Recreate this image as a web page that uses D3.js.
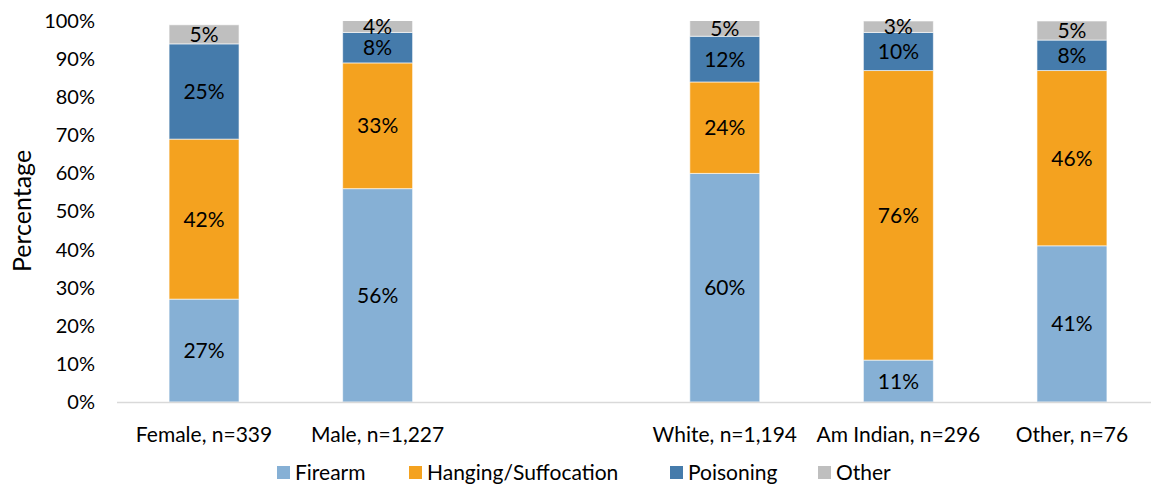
<!DOCTYPE html>
<html>
<head>
<meta charset="utf-8">
<script src="https://cdn.jsdelivr.net/npm/d3@7"></script>
<style>
  html, body { margin: 0; padding: 0; background: #fff; }
  svg { display: block; font-family: Lato, "Open Sans", sans-serif; }
</style>
</head>
<body>
<svg id="chart" width="1151" height="485"></svg>
<script>
// Method of suicide by sex and race (percent of deaths in each group)
const categories = ["Female, n=339", "Male, n=1,227", "", "White, n=1,194", "Am Indian, n=296", "Other, n=76"];
const seriesNames = ["Firearm", "Hanging/Suffocation", "Poisoning", "Other"];
const firearm   = [27, 56, null, 60, 11, 41];
const hanging   = [42, 33, null, 24, 76, 46];
const poisoning = [25,  8, null, 12, 10,  8];
const other     = [ 5,  4, null,  5,  3,  5];
const yTicks = [0, 10, 20, 30, 40, 50, 60, 70, 80, 90, 100];
const colors = ["#86b0d5", "#f4a21f", "#457bab", "#bfbfbf"];

const seriesValues = [firearm, hanging, poisoning, other];
const rows = categories.map((c, i) => {
  const r = { cat: c };
  seriesNames.forEach((s, j) => r[s] = seriesValues[j][i] || 0);
  return r;
});

const svg = d3.select("#chart");
const plotLeft = 117, plotRight = 1159, plotTop = 21, plotBottom = 402;

const x = d3.scaleBand().domain(categories.map((c, i) => i)).range([plotLeft, plotRight]).paddingInner(0.597).paddingOuter(0.3);
const y = d3.scaleLinear().domain([0, 100]).range([plotBottom, plotTop]);

svg.append("defs").append("clipPath").attr("id", "plotClip")
  .append("rect").attr("x", plotLeft).attr("y", plotTop).attr("width", plotRight - plotLeft).attr("height", plotBottom - plotTop);

const stack = d3.stack().keys(seriesNames);
const layers = stack(rows);

const g = svg.append("g").attr("clip-path", "url(#plotClip)");
layers.forEach((layer, j) => {
  g.selectAll(null).data(layer.map((d, i) => ({ d, i })).filter(o => seriesValues[j][o.i] != null))
    .join("rect")
    .attr("x", o => x(o.i))
    .attr("width", x.bandwidth())
    .attr("y", o => y(o.d[1]))
    .attr("height", o => y(o.d[0]) - y(o.d[1]))
    .attr("fill", colors[j])
    .attr("stroke", "#ffffff")
    .attr("stroke-opacity", 0.6)
    .attr("stroke-width", 1);
});

// value labels, centred in the visible part of each segment
layers.forEach((layer, j) => {
  svg.selectAll(null).data(layer.map((d, i) => ({ d, i })).filter(o => seriesValues[j][o.i] != null))
    .join("text")
    .attr("x", o => x(o.i) + x.bandwidth() / 2)
    .attr("y", o => (y(Math.min(o.d[0], 100)) + y(Math.min(o.d[1], 100))) / 2)
    .attr("dy", "0.36em")
    .attr("text-anchor", "middle")
    .attr("font-size", 21)
    .attr("fill", "#000")
    .text(o => seriesValues[j][o.i] + "%");
});

// x axis baseline
svg.append("line").attr("x1", plotLeft).attr("x2", 1151).attr("y1", plotBottom + 0.5).attr("y2", plotBottom + 0.5)
  .attr("stroke", "#d9d9d9").attr("stroke-width", 1.5);

// category labels
svg.selectAll(null).data(categories.map((c, i) => ({ c, i })))
  .join("text")
  .attr("x", o => x(o.i) + x.bandwidth() / 2)
  .attr("y", 434)
  .attr("dy", "0.36em")
  .attr("text-anchor", "middle")
  .attr("font-size", 21)
  .attr("fill", "#000")
  .text(o => o.c);

// y axis tick labels
const yAxis = d3.axisLeft(y).tickValues(yTicks).tickFormat(d => d + "%").tickSize(0).tickPadding(0);
const ya = svg.append("g").attr("transform", `translate(95,0)`).call(yAxis);
ya.select(".domain").remove();
ya.selectAll("text").attr("font-size", 20).attr("fill", "#000").attr("font-family", "Lato, 'Open Sans', sans-serif");

// y axis title
svg.append("text")
  .attr("transform", "translate(22,211) rotate(-90)")
  .attr("dy", "0.36em")
  .attr("text-anchor", "middle")
  .attr("font-size", 25)
  .attr("fill", "#000")
  .text("Percentage");

// legend
const legendX = [277, 409, 670, 818];
const lg = svg.append("g");
seriesNames.forEach((s, j) => {
  lg.append("rect").attr("x", legendX[j]).attr("y", 466).attr("width", 13).attr("height", 13).attr("fill", colors[j]);
  lg.append("text").attr("x", legendX[j] + 18).attr("y", 472).attr("dy", "0.36em")
    .attr("font-size", 21).attr("fill", "#000").text(s);
});
</script>
</body>
</html>
